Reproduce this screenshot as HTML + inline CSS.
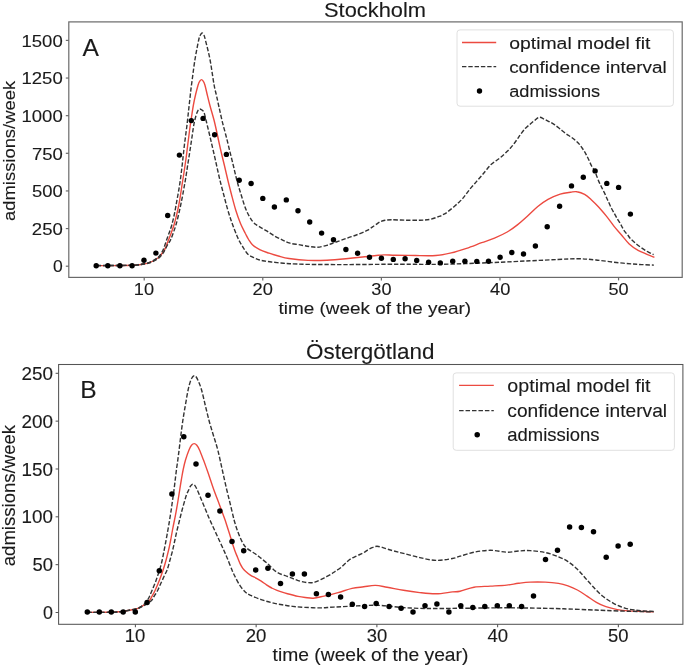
<!DOCTYPE html>
<html><head><meta charset="utf-8"><style>
html,body{margin:0;padding:0;background:#fff;}
svg{display:block;}
svg text{font-family:"Liberation Sans", sans-serif; fill:#1a1a1a;}
.t{filter:grayscale(1);} .t text{stroke:#1a1a1a;stroke-width:0.12px;}
</style></head><body>
<svg width="685" height="667" viewBox="0 0 685 667">
<rect width="685" height="667" fill="#fff"/>
<rect x="68.8" y="21.9" width="613.4" height="255.5" fill="none" stroke="#6a6a6a" stroke-width="1.20"/>
<line x1="65.8" y1="266.20" x2="68.8" y2="266.20" stroke="#6a6a6a" stroke-width="1.20"/>
<line x1="65.8" y1="228.57" x2="68.8" y2="228.57" stroke="#6a6a6a" stroke-width="1.20"/>
<line x1="65.8" y1="190.94" x2="68.8" y2="190.94" stroke="#6a6a6a" stroke-width="1.20"/>
<line x1="65.8" y1="153.30" x2="68.8" y2="153.30" stroke="#6a6a6a" stroke-width="1.20"/>
<line x1="65.8" y1="115.67" x2="68.8" y2="115.67" stroke="#6a6a6a" stroke-width="1.20"/>
<line x1="65.8" y1="78.04" x2="68.8" y2="78.04" stroke="#6a6a6a" stroke-width="1.20"/>
<line x1="65.8" y1="40.41" x2="68.8" y2="40.41" stroke="#6a6a6a" stroke-width="1.20"/>
<line x1="144.20" y1="277.4" x2="144.20" y2="280.4" stroke="#6a6a6a" stroke-width="1.20"/>
<line x1="262.79" y1="277.4" x2="262.79" y2="280.4" stroke="#6a6a6a" stroke-width="1.20"/>
<line x1="381.38" y1="277.4" x2="381.38" y2="280.4" stroke="#6a6a6a" stroke-width="1.20"/>
<line x1="499.97" y1="277.4" x2="499.97" y2="280.4" stroke="#6a6a6a" stroke-width="1.20"/>
<line x1="618.56" y1="277.4" x2="618.56" y2="280.4" stroke="#6a6a6a" stroke-width="1.20"/>
<g fill="none" stroke-linejoin="round" stroke-linecap="butt">
<path d="M96.8,265.6 C99.0,265.6 105.3,265.6 110.0,265.6 C114.7,265.6 120.8,265.6 125.0,265.5 C129.2,265.4 132.5,265.3 135.0,265.2 C137.5,265.1 138.4,264.8 140.0,264.6 C141.6,264.4 142.9,264.2 144.4,263.9 C145.9,263.6 147.4,263.3 148.8,262.8 C150.2,262.3 151.7,261.8 153.1,261.0 C154.5,260.2 156.3,259.2 157.5,258.3 C158.7,257.4 159.6,256.5 160.5,255.5 C161.4,254.5 162.0,253.5 162.8,252.2 C163.7,250.9 164.7,249.6 165.6,247.6 C166.5,245.6 167.5,242.5 168.5,240.0 C169.5,237.5 170.5,235.0 171.4,232.5 C172.3,230.0 173.1,227.9 174.0,225.0 C174.9,222.1 175.8,218.3 176.6,215.0 C177.4,211.7 178.2,208.3 178.8,205.0 C179.5,201.7 180.0,198.3 180.5,195.0 C181.0,191.7 181.5,188.3 182.0,185.0 C182.5,181.7 183.1,178.3 183.6,175.0 C184.1,171.7 184.6,168.3 185.1,165.0 C185.6,161.7 186.1,158.3 186.5,155.0 C186.9,151.7 187.3,148.3 187.7,145.0 C188.1,141.7 188.6,138.3 189.0,135.0 C189.4,131.7 189.8,128.3 190.3,125.0 C190.8,121.7 191.3,118.3 191.8,115.0 C192.3,111.7 192.8,108.3 193.4,105.0 C194.0,101.7 194.7,98.3 195.5,95.0 C196.3,91.7 197.4,87.3 198.1,85.0 C198.8,82.7 199.2,82.1 199.8,81.2 C200.4,80.3 200.9,79.6 201.5,79.6 C202.1,79.6 202.6,80.3 203.2,81.2 C203.8,82.1 204.2,82.7 204.9,85.0 C205.6,87.3 206.5,91.7 207.3,95.0 C208.1,98.3 208.7,100.8 209.8,105.0 C210.9,109.2 212.7,115.0 214.0,120.0 C215.3,125.0 216.3,130.0 217.4,135.0 C218.5,140.0 219.5,145.0 220.7,150.0 C221.8,155.0 223.1,160.0 224.3,165.0 C225.5,170.0 226.6,175.0 227.8,180.0 C229.0,185.0 230.3,190.0 231.6,195.0 C232.9,200.0 234.2,205.2 235.7,210.0 C237.2,214.8 238.9,219.6 240.5,223.5 C242.1,227.4 244.1,230.8 245.4,233.5 C246.8,236.2 247.4,237.6 248.6,239.5 C249.8,241.4 250.8,243.3 252.7,245.0 C254.5,246.7 257.0,248.2 259.7,249.6 C262.4,251.0 266.0,252.1 269.1,253.2 C272.2,254.3 275.1,255.1 278.4,256.0 C281.7,256.9 284.1,257.8 289.0,258.5 C293.9,259.2 301.7,260.1 308.0,260.4 C314.3,260.7 320.7,260.5 327.0,260.2 C333.3,259.9 339.6,259.3 345.9,258.7 C352.2,258.1 359.8,257.3 364.9,256.8 C370.0,256.3 373.1,255.8 376.3,255.5 C379.5,255.2 380.8,255.0 383.9,254.9 C387.0,254.8 389.7,255.1 395.0,255.2 C400.3,255.3 408.7,255.4 415.5,255.5 C422.3,255.6 429.9,255.9 435.9,255.5 C441.8,255.1 446.1,254.1 451.2,252.9 C456.3,251.7 461.4,250.0 466.5,248.3 C471.6,246.6 477.0,244.4 481.7,242.7 C486.4,241.0 490.2,239.9 494.5,238.1 C498.8,236.3 503.4,234.2 507.2,232.0 C511.0,229.8 514.0,227.6 517.4,224.9 C520.8,222.2 524.2,219.1 527.6,216.0 C531.0,212.9 534.4,209.3 537.8,206.5 C541.2,203.7 544.3,201.5 548.0,199.4 C551.7,197.3 556.4,195.3 560.2,194.1 C564.0,192.9 567.8,192.6 570.6,192.2 C573.4,191.8 574.7,191.3 577.0,191.7 C579.3,192.0 582.3,193.0 584.6,194.3 C586.9,195.6 588.7,197.3 591.0,199.4 C593.3,201.5 596.1,204.2 598.6,207.0 C601.1,209.8 603.7,212.7 606.2,215.9 C608.8,219.1 611.4,222.9 613.9,226.1 C616.4,229.3 619.0,232.0 621.5,235.0 C624.0,238.0 626.4,241.3 629.2,243.9 C632.0,246.5 635.1,248.6 638.1,250.3 C641.1,252.0 644.3,253.1 647.0,254.3 C649.7,255.5 653.2,256.9 654.4,257.4" stroke="#ec4a40" stroke-width="1.40"/>
<path d="M96.8,265.5 C101.5,265.5 118.6,265.5 125.0,265.4 C131.4,265.3 132.5,265.3 135.0,265.1 C137.5,264.9 138.5,264.6 140.0,264.4 C141.5,264.2 142.5,264.0 144.0,263.7 C145.5,263.4 147.3,263.1 148.8,262.6 C150.3,262.1 151.7,261.5 153.1,260.7 C154.5,259.9 156.3,258.7 157.5,257.8 C158.7,256.9 159.3,256.1 160.0,255.2 C160.7,254.3 161.1,253.7 161.8,252.4 C162.5,251.1 163.2,249.7 164.0,247.6 C164.8,245.5 165.7,242.5 166.6,240.0 C167.5,237.5 168.4,235.0 169.3,232.5 C170.2,230.0 171.0,227.9 171.8,225.0 C172.6,222.1 173.5,218.3 174.2,215.0 C174.9,211.7 175.5,208.3 176.1,205.0 C176.7,201.7 177.3,198.3 177.9,195.0 C178.5,191.7 179.1,188.3 179.6,185.0 C180.1,181.7 180.6,178.3 181.0,175.0 C181.4,171.7 181.8,168.3 182.2,165.0 C182.6,161.7 182.9,158.3 183.3,155.0 C183.7,151.7 184.0,148.3 184.4,145.0 C184.8,141.7 185.3,138.3 185.7,135.0 C186.1,131.7 186.6,128.3 187.0,125.0 C187.4,121.7 187.7,118.3 188.1,115.0 C188.5,111.7 188.8,108.3 189.2,105.0 C189.6,101.7 189.9,98.3 190.3,95.0 C190.7,91.7 190.7,90.8 191.5,85.0 C192.3,79.2 193.7,67.5 194.9,60.0 C196.1,52.5 197.8,44.2 198.7,40.0 C199.6,35.8 199.8,36.2 200.4,35.0 C201.0,33.8 201.6,33.0 202.2,33.0 C202.8,33.0 203.4,33.8 203.9,35.0 C204.4,36.2 204.4,35.8 205.4,40.0 C206.4,44.2 208.7,52.5 210.1,60.0 C211.5,67.5 213.0,79.0 214.1,85.0 C215.2,91.0 215.8,92.3 216.6,96.0 C217.4,99.7 218.1,103.0 219.0,107.0 C219.9,111.0 220.8,115.3 221.9,120.0 C223.0,124.7 224.5,130.0 225.8,135.0 C227.1,140.0 228.3,145.0 229.5,150.0 C230.7,155.0 232.0,160.0 233.2,165.0 C234.4,170.0 235.5,175.0 236.8,180.0 C238.1,185.0 239.6,190.0 241.2,195.0 C242.8,200.0 244.3,205.6 246.2,210.0 C248.1,214.4 250.6,218.9 252.7,221.6 C254.8,224.3 256.3,224.6 258.6,226.2 C260.9,227.8 264.0,229.2 266.7,230.9 C269.4,232.6 272.2,234.6 274.9,236.2 C277.6,237.8 280.6,239.1 283.1,240.3 C285.6,241.5 287.2,242.4 290.0,243.2 C292.8,244.0 296.8,244.3 300.0,244.9 C303.2,245.5 306.4,246.1 309.3,246.5 C312.2,246.9 314.6,247.5 317.5,247.3 C320.4,247.1 324.0,246.1 326.9,245.3 C329.8,244.5 331.7,243.6 335.0,242.4 C338.3,241.2 342.8,239.7 346.7,238.3 C350.6,236.9 354.9,235.6 358.4,234.2 C361.9,232.8 365.0,231.6 367.7,230.1 C370.4,228.6 372.6,226.8 374.7,225.4 C376.8,224.0 378.3,222.8 380.0,221.9 C381.7,221.1 383.1,220.7 385.0,220.3 C386.9,220.0 388.1,219.8 391.5,219.8 C394.9,219.8 400.6,220.1 405.3,220.2 C410.1,220.3 415.9,220.3 420.0,220.2 C424.1,220.1 426.8,220.0 430.0,219.4 C433.2,218.8 436.9,217.2 439.1,216.4 C441.4,215.6 442.1,215.2 443.5,214.4 C444.9,213.7 446.0,213.1 447.6,211.9 C449.2,210.7 451.5,208.8 453.4,207.2 C455.2,205.6 457.1,204.0 458.7,202.5 C460.3,201.0 461.5,199.9 462.8,198.4 C464.1,196.9 465.2,195.3 466.5,193.6 C467.8,191.9 469.1,190.1 470.5,188.4 C471.9,186.8 473.2,185.3 474.6,183.7 C476.0,182.1 477.3,180.6 478.7,179.0 C480.1,177.4 481.5,175.9 482.8,174.3 C484.1,172.7 485.2,171.3 486.6,169.6 C488.0,167.9 489.8,165.7 491.4,164.2 C493.0,162.7 494.5,161.9 496.1,160.7 C497.7,159.5 499.2,158.5 500.8,157.2 C502.4,155.9 503.8,154.6 505.4,153.1 C506.9,151.6 508.7,149.9 510.1,148.4 C511.5,146.9 512.4,145.9 513.6,144.3 C514.8,142.7 516.2,140.7 517.4,139.0 C518.6,137.3 519.5,135.8 520.8,134.1 C522.1,132.4 523.7,130.2 525.2,128.6 C526.7,127.0 528.1,125.9 529.6,124.6 C531.1,123.3 532.4,122.1 534.0,120.9 C535.6,119.7 537.4,117.6 539.1,117.3 C540.8,117.0 542.5,118.4 544.2,119.1 C545.9,119.8 547.6,120.8 549.3,121.7 C551.0,122.6 552.6,123.4 554.4,124.6 C556.2,125.8 558.1,127.4 560.0,128.9 C561.9,130.4 564.1,132.3 566.0,133.7 C567.9,135.1 569.7,136.1 571.4,137.3 C573.1,138.6 574.8,139.9 576.2,141.2 C577.6,142.4 578.7,143.5 579.8,144.8 C580.9,146.1 581.8,147.5 582.8,149.0 C583.8,150.5 584.9,152.1 585.8,153.8 C586.7,155.5 587.4,157.0 588.4,159.0 C589.4,161.0 590.5,164.0 591.6,166.0 C592.7,168.0 594.0,169.4 594.9,171.2 C595.8,173.0 596.2,174.9 597.0,176.8 C597.8,178.7 598.6,181.0 599.4,182.8 C600.2,184.6 601.0,186.0 601.8,187.6 C602.6,189.2 603.4,190.7 604.2,192.4 C605.0,194.1 605.9,196.3 606.6,197.8 C607.3,199.3 607.6,199.9 608.4,201.6 C609.2,203.3 610.4,206.2 611.4,208.2 C612.4,210.2 613.4,211.8 614.4,213.6 C615.4,215.4 616.4,217.3 617.4,219.0 C618.4,220.7 619.6,222.4 620.4,223.8 C621.2,225.2 621.6,226.1 622.3,227.4 C623.0,228.7 623.8,230.2 624.7,231.4 C625.6,232.7 626.6,233.7 627.6,234.9 C628.6,236.1 629.3,237.4 630.5,238.7 C631.7,240.0 633.1,241.2 634.6,242.5 C636.1,243.8 637.6,245.1 639.3,246.3 C640.9,247.5 643.0,248.9 644.5,249.8 C646.0,250.7 646.7,251.2 648.0,251.9 C649.3,252.6 651.2,253.5 652.1,253.9 C653.0,254.3 653.4,254.5 653.6,254.6" stroke="#333" stroke-width="1.40" stroke-dasharray="4.4 1.9"/>
<path d="M96.8,265.6 C103.2,265.6 127.8,265.4 135.0,265.3 C142.2,265.2 138.4,265.0 140.0,264.8 C141.6,264.6 142.9,264.4 144.4,264.1 C145.9,263.8 147.4,263.6 148.8,263.1 C150.2,262.7 151.7,262.1 153.1,261.4 C154.5,260.7 156.2,259.9 157.5,259.0 C158.8,258.1 159.8,257.1 160.8,256.0 C161.8,254.9 162.5,254.2 163.6,252.4 C164.7,250.7 166.0,247.6 167.2,245.5 C168.3,243.4 169.5,242.2 170.5,240.0 C171.5,237.8 172.5,235.0 173.4,232.5 C174.3,230.0 175.1,227.9 175.9,225.0 C176.8,222.1 177.7,218.3 178.5,215.0 C179.3,211.7 180.0,208.3 180.7,205.0 C181.4,201.7 182.1,198.3 182.7,195.0 C183.3,191.7 183.9,188.3 184.5,185.0 C185.1,181.7 185.7,178.3 186.2,175.0 C186.7,171.7 187.2,168.3 187.7,165.0 C188.2,161.7 188.8,158.3 189.3,155.0 C189.8,151.7 190.3,148.3 190.8,145.0 C191.3,141.7 191.8,138.3 192.3,135.0 C192.8,131.7 193.2,128.2 193.8,125.0 C194.4,121.8 195.3,118.0 196.0,115.6 C196.7,113.2 197.2,111.9 197.8,110.8 C198.4,109.7 199.0,109.2 199.6,109.0 C200.2,108.8 200.9,109.3 201.6,109.8 C202.3,110.3 203.2,110.6 203.8,112.0 C204.5,113.4 204.9,115.8 205.5,118.0 C206.1,120.2 206.4,121.8 207.2,125.0 C208.0,128.2 209.2,133.3 210.2,137.5 C211.2,141.7 212.0,145.4 213.1,150.0 C214.2,154.6 215.4,160.0 216.5,165.0 C217.6,170.0 218.7,175.0 219.9,180.0 C221.1,185.0 222.5,190.0 223.8,195.0 C225.1,200.0 226.4,205.3 227.8,210.0 C229.2,214.7 230.5,218.8 232.0,223.0 C233.5,227.2 235.3,231.8 236.6,235.0 C237.9,238.2 238.9,240.2 240.0,242.3 C241.1,244.4 242.1,245.8 243.4,247.8 C244.7,249.8 246.2,252.6 247.9,254.2 C249.6,255.8 251.9,256.6 253.8,257.6 C255.8,258.6 257.7,259.4 259.6,260.0 C261.5,260.6 263.4,260.8 265.4,261.1 C267.3,261.4 269.4,261.8 271.3,262.0 C273.2,262.2 275.1,262.4 277.1,262.6 C279.1,262.8 281.4,263.0 283.5,263.2 C285.6,263.4 285.9,263.5 290.0,263.7 C294.1,263.9 298.7,264.2 308.0,264.4 C317.3,264.5 330.6,264.6 345.9,264.6 C361.2,264.6 384.1,264.2 400.0,264.2 C415.9,264.1 425.7,264.6 441.0,264.3 C456.3,264.0 477.0,263.2 491.9,262.6 C506.8,262.0 519.2,261.3 530.2,260.8 C541.2,260.3 549.8,259.9 557.8,259.5 C565.8,259.1 571.8,258.6 578.2,258.7 C584.6,258.8 589.6,259.4 596.0,260.0 C602.4,260.6 609.6,261.8 616.4,262.5 C623.2,263.2 630.5,263.9 636.8,264.3 C643.0,264.7 651.0,265.0 653.9,265.1" stroke="#333" stroke-width="1.40" stroke-dasharray="4.4 1.9"/>
</g>
<g fill="#000"><circle cx="96.2" cy="265.7" r="2.70"/><circle cx="107.8" cy="265.7" r="2.70"/><circle cx="119.9" cy="265.7" r="2.70"/><circle cx="132.1" cy="265.7" r="2.70"/><circle cx="144.0" cy="260.3" r="2.70"/><circle cx="155.9" cy="253.1" r="2.70"/><circle cx="167.7" cy="215.5" r="2.70"/><circle cx="179.4" cy="155.1" r="2.70"/><circle cx="191.3" cy="120.6" r="2.70"/><circle cx="203.1" cy="118.4" r="2.70"/><circle cx="214.6" cy="134.8" r="2.70"/><circle cx="226.4" cy="154.4" r="2.70"/><circle cx="239.2" cy="180.3" r="2.70"/><circle cx="251.1" cy="183.5" r="2.70"/><circle cx="262.8" cy="198.4" r="2.70"/><circle cx="274.4" cy="207.0" r="2.70"/><circle cx="286.3" cy="199.9" r="2.70"/><circle cx="298.0" cy="210.8" r="2.70"/><circle cx="309.7" cy="222.0" r="2.70"/><circle cx="321.6" cy="233.1" r="2.70"/><circle cx="333.5" cy="239.8" r="2.70"/><circle cx="345.9" cy="249.5" r="2.70"/><circle cx="357.6" cy="253.2" r="2.70"/><circle cx="369.5" cy="257.2" r="2.70"/><circle cx="381.4" cy="258.2" r="2.70"/><circle cx="393.3" cy="259.4" r="2.70"/><circle cx="405.1" cy="258.7" r="2.70"/><circle cx="416.7" cy="260.4" r="2.70"/><circle cx="428.6" cy="262.2" r="2.70"/><circle cx="440.3" cy="262.9" r="2.70"/><circle cx="452.7" cy="261.2" r="2.70"/><circle cx="464.9" cy="261.2" r="2.70"/><circle cx="476.8" cy="261.4" r="2.70"/><circle cx="488.5" cy="261.2" r="2.70"/><circle cx="500.1" cy="257.2" r="2.70"/><circle cx="511.8" cy="252.5" r="2.70"/><circle cx="523.5" cy="254.0" r="2.70"/><circle cx="535.4" cy="246.0" r="2.70"/><circle cx="547.2" cy="226.8" r="2.70"/><circle cx="559.6" cy="206.2" r="2.70"/><circle cx="571.5" cy="185.9" r="2.70"/><circle cx="583.3" cy="177.2" r="2.70"/><circle cx="595.1" cy="170.9" r="2.70"/><circle cx="606.8" cy="183.4" r="2.70"/><circle cx="618.6" cy="187.4" r="2.70"/><circle cx="630.4" cy="214.1" r="2.70"/></g>
<rect x="457.0" y="29.9" width="216.4" height="76.3" rx="3" ry="3" fill="#fff" fill-opacity="0.8" stroke="#e0e0e0" stroke-width="1"/>
<line x1="462.0" y1="42.5" x2="496.2" y2="42.5" stroke="#ec4a40" stroke-width="1.40"/>
<line x1="462.0" y1="66.6" x2="496.2" y2="66.6" stroke="#333" stroke-width="1.40" stroke-dasharray="4.4 1.9"/>
<circle cx="479.5" cy="91.0" r="2.70" fill="#000"/>
<rect x="58.6" y="364.5" width="624.3" height="259.8" fill="none" stroke="#555" stroke-width="1.05"/>
<line x1="55.6" y1="612.50" x2="58.6" y2="612.50" stroke="#555" stroke-width="1.05"/>
<line x1="55.6" y1="564.66" x2="58.6" y2="564.66" stroke="#555" stroke-width="1.05"/>
<line x1="55.6" y1="516.82" x2="58.6" y2="516.82" stroke="#555" stroke-width="1.05"/>
<line x1="55.6" y1="468.98" x2="58.6" y2="468.98" stroke="#555" stroke-width="1.05"/>
<line x1="55.6" y1="421.14" x2="58.6" y2="421.14" stroke="#555" stroke-width="1.05"/>
<line x1="55.6" y1="373.30" x2="58.6" y2="373.30" stroke="#555" stroke-width="1.05"/>
<line x1="135.40" y1="624.3" x2="135.40" y2="627.3" stroke="#555" stroke-width="1.05"/>
<line x1="256.14" y1="624.3" x2="256.14" y2="627.3" stroke="#555" stroke-width="1.05"/>
<line x1="376.88" y1="624.3" x2="376.88" y2="627.3" stroke="#555" stroke-width="1.05"/>
<line x1="497.62" y1="624.3" x2="497.62" y2="627.3" stroke="#555" stroke-width="1.05"/>
<line x1="618.36" y1="624.3" x2="618.36" y2="627.3" stroke="#555" stroke-width="1.05"/>
<g fill="none" stroke-linejoin="round" stroke-linecap="butt">
<path d="M87.1,612.4 C90.9,612.4 104.5,612.4 110.0,612.3 C115.5,612.2 117.0,612.0 120.0,611.7 C123.0,611.4 125.2,611.0 128.0,610.5 C130.8,610.0 134.6,609.3 136.8,608.7 C139.0,608.1 139.7,607.5 141.1,606.7 C142.5,605.9 144.1,605.0 145.5,604.0 C146.9,603.0 148.4,601.6 149.5,600.4 C150.6,599.2 150.8,598.3 151.8,596.6 C152.8,594.9 154.0,592.8 155.3,590.0 C156.6,587.2 158.2,583.3 159.5,580.0 C160.8,576.7 162.0,573.3 163.1,570.0 C164.2,566.7 165.2,563.3 166.1,560.0 C167.0,556.7 167.8,553.3 168.6,550.0 C169.4,546.7 170.0,543.3 170.7,540.0 C171.3,536.7 171.9,533.3 172.5,530.0 C173.1,526.7 173.8,523.3 174.5,520.0 C175.2,516.7 175.8,513.3 176.4,510.0 C177.0,506.7 177.6,503.3 178.1,500.0 C178.6,496.7 179.2,493.3 179.7,490.0 C180.2,486.7 180.7,483.3 181.3,480.0 C181.9,476.7 182.4,473.3 183.1,470.0 C183.8,466.7 184.5,463.3 185.5,460.0 C186.5,456.7 188.0,452.4 189.0,450.0 C190.0,447.6 190.6,446.4 191.5,445.3 C192.4,444.2 193.3,443.6 194.2,443.6 C195.1,443.6 195.9,444.2 196.8,445.3 C197.7,446.4 198.4,447.6 199.5,450.0 C200.6,452.4 202.2,456.7 203.5,460.0 C204.8,463.3 205.9,466.7 207.1,470.0 C208.3,473.3 209.4,476.7 210.5,480.0 C211.6,483.3 212.7,486.7 213.9,490.0 C215.1,493.3 216.4,496.7 217.7,500.0 C218.9,503.3 220.2,506.7 221.4,510.0 C222.6,513.3 223.9,516.7 225.1,520.0 C226.2,523.3 227.2,526.7 228.3,530.0 C229.4,533.3 230.4,536.6 231.4,540.0 C232.4,543.4 233.6,547.2 234.6,550.1 C235.6,553.0 236.7,555.2 237.6,557.5 C238.5,559.8 239.3,562.1 240.2,563.9 C241.1,565.7 241.9,567.1 242.8,568.3 C243.7,569.5 244.2,570.0 245.5,571.2 C246.8,572.4 248.9,574.2 250.7,575.4 C252.4,576.5 254.2,577.1 256.0,578.1 C257.8,579.1 259.4,580.1 261.2,581.2 C262.9,582.3 264.8,583.8 266.5,584.9 C268.2,586.0 269.9,587.1 271.7,588.0 C273.4,588.9 275.2,589.6 277.0,590.3 C278.8,591.0 280.4,591.6 282.2,592.2 C283.9,592.8 284.9,593.1 287.5,593.8 C290.1,594.5 295.1,595.8 298.0,596.4 C300.9,597.0 302.6,597.2 305.2,597.5 C307.8,597.8 310.2,598.4 313.3,598.2 C316.4,598.0 319.9,597.0 324.0,596.1 C328.1,595.2 333.3,593.9 338.0,592.6 C342.7,591.3 347.7,589.4 352.0,588.4 C356.3,587.4 359.8,587.3 363.7,586.8 C367.6,586.3 371.5,585.3 375.4,585.4 C379.3,585.5 382.4,586.4 387.1,587.2 C391.8,588.0 397.9,589.4 403.4,590.3 C408.8,591.2 414.4,592.0 419.8,592.6 C425.2,593.2 430.7,593.9 436.1,593.8 C441.6,593.7 448.5,592.3 452.5,591.9 C456.5,591.5 456.4,592.0 460.0,591.2 C463.6,590.4 468.9,588.1 474.0,587.2 C479.1,586.4 484.9,586.5 490.4,586.1 C495.8,585.8 502.0,585.6 506.7,585.1 C511.4,584.6 514.5,583.8 518.4,583.3 C522.3,582.8 525.6,582.3 530.1,582.1 C534.6,581.9 540.5,581.9 545.2,582.1 C549.9,582.3 554.7,582.8 558.5,583.4 C562.3,584.0 564.9,584.8 568.0,585.9 C571.1,587.0 574.2,588.3 577.4,590.0 C580.6,591.7 583.8,594.0 587.0,596.1 C590.2,598.2 593.2,600.6 596.4,602.4 C599.5,604.2 602.4,605.5 605.9,606.7 C609.4,607.9 613.5,608.9 617.3,609.6 C621.1,610.3 624.3,610.6 628.7,610.9 C633.1,611.2 639.8,611.4 643.9,611.5 C648.0,611.6 652.0,611.7 653.6,611.7" stroke="#ec4a40" stroke-width="1.40"/>
<path d="M87.1,612.4 C90.9,612.4 104.5,612.4 110.0,612.3 C115.5,612.2 117.0,612.0 120.0,611.7 C123.0,611.4 125.2,610.9 128.0,610.4 C130.8,609.9 134.6,609.2 136.8,608.6 C139.0,608.0 139.8,607.3 141.1,606.5 C142.4,605.7 143.5,604.9 144.5,603.9 C145.5,602.9 146.5,601.7 147.3,600.4 C148.2,599.1 148.8,597.9 149.6,596.2 C150.4,594.5 151.2,592.4 152.2,590.0 C153.2,587.6 154.3,585.2 155.5,582.0 C156.7,578.8 158.1,574.5 159.2,571.0 C160.3,567.5 161.2,564.5 162.0,561.0 C162.8,557.5 163.5,553.5 164.2,550.0 C164.9,546.5 165.5,543.3 166.1,540.0 C166.7,536.7 167.3,533.3 167.9,530.0 C168.5,526.7 169.1,523.3 169.6,520.0 C170.1,516.7 170.7,513.3 171.2,510.0 C171.7,506.7 172.1,503.3 172.6,500.0 C173.1,496.7 173.6,493.3 174.0,490.0 C174.4,486.7 174.8,483.3 175.2,480.0 C175.6,476.7 176.0,473.3 176.4,470.0 C176.8,466.7 177.4,463.3 177.8,460.0 C178.2,456.7 178.6,454.2 179.1,450.0 C179.6,445.8 180.3,440.0 180.9,435.0 C181.5,430.0 182.2,425.0 182.9,420.0 C183.7,415.0 184.5,410.0 185.4,405.0 C186.3,400.0 187.2,394.0 188.1,390.0 C188.9,386.0 189.8,383.2 190.5,381.0 C191.2,378.8 191.9,377.9 192.5,377.0 C193.1,376.1 193.7,375.7 194.3,375.7 C194.9,375.7 195.5,376.0 196.2,377.0 C196.9,378.0 197.6,379.3 198.5,381.5 C199.4,383.7 200.5,386.1 201.6,390.0 C202.7,393.9 204.0,400.0 205.2,405.0 C206.4,410.0 207.6,415.0 208.9,420.0 C210.2,425.0 211.8,430.0 213.3,435.0 C214.8,440.0 216.3,444.2 217.8,450.0 C219.3,455.8 220.8,463.3 222.3,470.0 C223.8,476.7 225.4,484.2 226.8,490.0 C228.2,495.8 229.3,500.0 230.5,505.0 C231.7,510.0 232.9,515.5 234.1,520.0 C235.3,524.5 236.5,528.2 237.9,531.9 C239.3,535.6 240.9,539.6 242.4,542.3 C243.9,545.0 244.5,546.2 246.9,548.3 C249.3,550.4 253.4,552.4 256.7,554.9 C260.0,557.4 263.4,560.1 266.8,563.0 C270.2,565.9 273.4,569.9 276.9,572.1 C280.3,574.4 284.6,575.3 287.5,576.5 C290.4,577.7 292.1,578.4 294.4,579.2 C296.6,580.0 298.9,580.9 301.0,581.4 C303.1,581.9 305.0,582.3 306.8,582.5 C308.6,582.7 310.4,582.8 311.9,582.7 C313.3,582.6 314.0,582.4 315.5,581.9 C317.0,581.4 318.9,580.5 320.7,579.6 C322.5,578.7 324.6,577.7 326.5,576.7 C328.4,575.7 330.9,574.3 332.3,573.4 C333.7,572.5 333.7,572.4 335.0,571.5 C336.3,570.6 338.6,569.4 340.3,568.0 C342.1,566.6 343.8,564.7 345.5,563.2 C347.2,561.7 348.9,560.0 350.8,558.8 C352.7,557.6 354.9,556.8 356.9,555.8 C358.9,554.8 361.1,554.1 363.0,553.1 C364.9,552.1 366.7,550.6 368.3,549.6 C369.9,548.6 371.2,548.0 372.7,547.4 C374.1,546.8 375.4,546.3 377.0,546.3 C378.6,546.3 380.5,546.9 382.3,547.4 C384.1,547.9 385.7,548.6 387.6,549.2 C389.5,549.8 391.1,550.2 393.7,550.9 C396.3,551.6 399.0,552.3 403.4,553.4 C407.8,554.5 414.4,556.4 419.8,557.6 C425.2,558.8 430.7,560.2 436.1,560.4 C441.6,560.5 448.5,559.2 452.5,558.5 C456.5,557.8 456.4,557.2 460.0,556.2 C463.6,555.2 468.9,553.2 474.0,552.2 C479.1,551.2 484.9,550.3 490.4,550.3 C495.8,550.3 502.0,552.1 506.7,552.2 C511.4,552.3 514.5,551.3 518.4,551.0 C522.3,550.7 525.6,550.4 530.1,550.6 C534.6,550.9 540.5,551.5 545.2,552.5 C549.9,553.5 554.7,555.3 558.5,556.8 C562.3,558.3 564.9,559.5 568.0,561.6 C571.1,563.7 574.6,566.5 577.4,569.2 C580.2,571.9 582.5,574.9 585.0,577.7 C587.5,580.5 589.8,583.2 592.6,586.2 C595.5,589.2 598.6,592.9 602.1,595.7 C605.6,598.6 609.7,601.2 613.5,603.3 C617.3,605.4 621.1,606.9 624.9,608.1 C628.7,609.3 633.1,609.8 636.3,610.3 C639.5,610.8 641.1,610.8 644.0,611.0 C646.9,611.2 652.0,611.3 653.6,611.4" stroke="#333" stroke-width="1.40" stroke-dasharray="4.5 1.95"/>
<path d="M87.1,612.4 C90.9,612.4 104.5,612.4 110.0,612.3 C115.5,612.2 117.0,612.0 120.0,611.7 C123.0,611.4 125.2,611.1 128.0,610.6 C130.8,610.1 134.6,609.5 136.8,608.9 C139.0,608.3 139.5,607.8 141.1,607.0 C142.7,606.2 144.8,605.2 146.5,604.1 C148.2,603.0 150.2,601.8 151.5,600.4 C152.8,599.0 153.2,597.7 154.3,596.0 C155.4,594.3 156.8,592.2 157.9,590.0 C159.0,587.8 159.9,585.3 161.0,583.0 C162.1,580.7 163.2,578.2 164.2,576.0 C165.2,573.8 166.1,572.7 167.1,570.0 C168.1,567.3 169.1,563.3 170.0,560.0 C170.9,556.7 171.9,553.3 172.7,550.0 C173.5,546.7 174.2,543.3 174.9,540.0 C175.6,536.7 176.3,533.3 177.1,530.0 C177.9,526.7 178.8,523.3 179.6,520.0 C180.4,516.7 181.2,513.3 182.1,510.0 C183.0,506.7 184.1,502.7 184.9,500.0 C185.7,497.3 186.2,495.7 186.8,494.0 C187.4,492.3 188.1,491.3 188.7,490.0 C189.3,488.7 189.9,487.0 190.6,486.0 C191.2,485.0 191.9,484.3 192.6,484.2 C193.3,484.1 194.0,484.4 194.8,485.4 C195.6,486.4 196.2,487.6 197.3,490.0 C198.4,492.4 200.1,496.7 201.5,500.0 C202.9,503.3 204.3,506.7 205.7,510.0 C207.1,513.3 208.4,516.7 209.9,520.0 C211.4,523.3 213.0,526.7 214.5,530.0 C216.0,533.3 217.6,536.7 219.1,540.0 C220.6,543.3 222.3,546.9 223.7,550.0 C225.1,553.1 226.1,555.3 227.5,558.8 C228.9,562.3 231.2,568.1 232.4,571.1 C233.7,574.1 233.7,574.0 235.0,576.5 C236.3,579.0 238.4,583.3 240.2,585.9 C241.9,588.5 243.8,590.6 245.5,592.2 C247.2,593.8 248.1,594.2 250.7,595.4 C253.3,596.6 257.7,598.4 261.2,599.6 C264.7,600.8 268.2,601.8 271.7,602.7 C275.2,603.6 278.7,604.2 282.2,604.8 C285.7,605.4 288.9,606.0 292.7,606.4 C296.5,606.8 300.4,607.1 305.0,607.4 C309.6,607.6 315.3,607.9 320.0,607.9 C324.7,607.9 327.3,607.4 333.4,607.1 C339.5,606.8 348.9,606.2 356.7,605.9 C364.5,605.6 372.3,605.1 380.1,605.4 C387.9,605.7 395.6,607.1 403.4,607.6 C411.2,608.1 417.4,608.4 426.8,608.5 C436.2,608.6 446.7,608.4 460.0,608.3 C473.3,608.2 491.1,607.8 506.7,607.8 C522.3,607.8 543.2,608.3 553.4,608.5 C563.6,608.7 562.1,608.8 568.0,609.0 C573.9,609.2 582.2,609.5 588.5,609.8 C594.8,610.0 599.0,610.2 605.9,610.5 C612.8,610.8 622.0,611.1 630.0,611.3 C638.0,611.5 649.7,611.8 653.6,611.9" stroke="#333" stroke-width="1.40" stroke-dasharray="4.5 1.95"/>
</g>
<g fill="#000"><circle cx="87.3" cy="612.1" r="2.75"/><circle cx="99.3" cy="612.1" r="2.75"/><circle cx="111.3" cy="612.1" r="2.75"/><circle cx="123.2" cy="612.1" r="2.75"/><circle cx="135.3" cy="612.1" r="2.75"/><circle cx="147.1" cy="602.5" r="2.75"/><circle cx="159.3" cy="570.7" r="2.75"/><circle cx="171.9" cy="494.0" r="2.75"/><circle cx="183.8" cy="436.8" r="2.75"/><circle cx="196.0" cy="464.0" r="2.75"/><circle cx="208.0" cy="495.2" r="2.75"/><circle cx="219.9" cy="510.9" r="2.75"/><circle cx="232.0" cy="541.4" r="2.75"/><circle cx="243.7" cy="550.8" r="2.75"/><circle cx="255.7" cy="570.1" r="2.75"/><circle cx="267.9" cy="568.3" r="2.75"/><circle cx="280.5" cy="583.5" r="2.75"/><circle cx="292.4" cy="573.9" r="2.75"/><circle cx="304.4" cy="573.9" r="2.75"/><circle cx="316.4" cy="593.7" r="2.75"/><circle cx="328.4" cy="594.6" r="2.75"/><circle cx="340.6" cy="596.9" r="2.75"/><circle cx="352.3" cy="604.2" r="2.75"/><circle cx="364.6" cy="606.6" r="2.75"/><circle cx="376.2" cy="603.6" r="2.75"/><circle cx="389.1" cy="606.6" r="2.75"/><circle cx="401.1" cy="608.3" r="2.75"/><circle cx="413.0" cy="612.1" r="2.75"/><circle cx="425.0" cy="605.7" r="2.75"/><circle cx="436.9" cy="604.0" r="2.75"/><circle cx="448.9" cy="612.1" r="2.75"/><circle cx="460.8" cy="605.7" r="2.75"/><circle cx="472.8" cy="607.4" r="2.75"/><circle cx="484.8" cy="606.6" r="2.75"/><circle cx="497.3" cy="605.7" r="2.75"/><circle cx="509.3" cy="605.7" r="2.75"/><circle cx="521.6" cy="606.6" r="2.75"/><circle cx="533.5" cy="596.1" r="2.75"/><circle cx="545.5" cy="559.6" r="2.75"/><circle cx="557.5" cy="550.2" r="2.75"/><circle cx="569.6" cy="527.0" r="2.75"/><circle cx="581.4" cy="527.6" r="2.75"/><circle cx="593.5" cy="531.7" r="2.75"/><circle cx="606.2" cy="557.2" r="2.75"/><circle cx="618.1" cy="546.1" r="2.75"/><circle cx="630.2" cy="544.3" r="2.75"/></g>
<rect x="453.2" y="372.9" width="221.2" height="77.4" rx="3" ry="3" fill="#fff" fill-opacity="0.8" stroke="#e0e0e0" stroke-width="1"/>
<line x1="459.1" y1="385.4" x2="493.8" y2="385.4" stroke="#ec4a40" stroke-width="1.40"/>
<line x1="459.1" y1="410.6" x2="493.8" y2="410.6" stroke="#333" stroke-width="1.40" stroke-dasharray="4.5 1.95"/>
<circle cx="477.2" cy="434.7" r="2.75" fill="#000"/>
<g class="t">
<text x="52.97" y="272.4" font-size="17.40" textLength="9.76" lengthAdjust="spacingAndGlyphs">0</text>
<text x="31.87" y="234.8" font-size="17.40" textLength="30.94" lengthAdjust="spacingAndGlyphs">250</text>
<text x="32.06" y="197.1" font-size="17.40" textLength="30.74" lengthAdjust="spacingAndGlyphs">500</text>
<text x="31.95" y="159.5" font-size="17.40" textLength="30.85" lengthAdjust="spacingAndGlyphs">750</text>
<text x="21.51" y="121.9" font-size="17.40" textLength="41.23" lengthAdjust="spacingAndGlyphs">1000</text>
<text x="21.51" y="84.2" font-size="17.40" textLength="41.23" lengthAdjust="spacingAndGlyphs">1250</text>
<text x="21.51" y="46.6" font-size="17.40" textLength="41.23" lengthAdjust="spacingAndGlyphs">1500</text>
<text x="133.80" y="295.3" font-size="17.40" textLength="20.20" lengthAdjust="spacingAndGlyphs">10</text>
<text x="252.55" y="295.3" font-size="17.40" textLength="20.33" lengthAdjust="spacingAndGlyphs">20</text>
<text x="371.33" y="295.3" font-size="17.40" textLength="20.14" lengthAdjust="spacingAndGlyphs">30</text>
<text x="489.99" y="295.3" font-size="17.40" textLength="20.29" lengthAdjust="spacingAndGlyphs">40</text>
<text x="608.51" y="295.3" font-size="17.40" textLength="20.14" lengthAdjust="spacingAndGlyphs">50</text>
<text x="509.2" y="48.7" font-size="17.40" text-anchor="start" textLength="141.2" lengthAdjust="spacingAndGlyphs" >optimal model fit</text>
<text x="509.2" y="72.7" font-size="17.40" text-anchor="start" textLength="157.4" lengthAdjust="spacingAndGlyphs" >confidence interval</text>
<text x="509.2" y="96.8" font-size="17.40" text-anchor="start" textLength="90.9" lengthAdjust="spacingAndGlyphs" >admissions</text>
<text x="324.0" y="16.5" font-size="20.90" text-anchor="start" textLength="102.0" lengthAdjust="spacingAndGlyphs" >Stockholm</text>
<text x="82.6" y="55.8" font-size="24.60" text-anchor="start" >A</text>
<text x="278.5" y="313.6" font-size="17.40" text-anchor="start" textLength="192.6" lengthAdjust="spacingAndGlyphs" >time (week of the year)</text>
<text transform="translate(15.0,150.9) rotate(-90)" x="0" y="0" font-size="17.40" text-anchor="middle" textLength="140.0" lengthAdjust="spacingAndGlyphs">admissions/week</text>
<text x="43.00" y="619.0" font-size="17.80" textLength="9.93" lengthAdjust="spacingAndGlyphs">0</text>
<text x="32.48" y="571.2" font-size="17.80" textLength="20.50" lengthAdjust="spacingAndGlyphs">50</text>
<text x="21.64" y="523.3" font-size="17.80" textLength="31.38" lengthAdjust="spacingAndGlyphs">100</text>
<text x="21.64" y="475.5" font-size="17.80" textLength="31.38" lengthAdjust="spacingAndGlyphs">150</text>
<text x="21.52" y="427.6" font-size="17.80" textLength="31.50" lengthAdjust="spacingAndGlyphs">200</text>
<text x="21.52" y="379.8" font-size="17.80" textLength="31.50" lengthAdjust="spacingAndGlyphs">250</text>
<text x="124.82" y="642.3" font-size="17.80" textLength="20.57" lengthAdjust="spacingAndGlyphs">10</text>
<text x="245.72" y="642.3" font-size="17.80" textLength="20.70" lengthAdjust="spacingAndGlyphs">20</text>
<text x="366.65" y="642.3" font-size="17.80" textLength="20.50" lengthAdjust="spacingAndGlyphs">30</text>
<text x="487.45" y="642.3" font-size="17.80" textLength="20.65" lengthAdjust="spacingAndGlyphs">40</text>
<text x="608.13" y="642.3" font-size="17.80" textLength="20.50" lengthAdjust="spacingAndGlyphs">50</text>
<text x="507.3" y="391.6" font-size="17.80" text-anchor="start" textLength="143.2" lengthAdjust="spacingAndGlyphs" >optimal model fit</text>
<text x="507.3" y="416.7" font-size="17.80" text-anchor="start" textLength="159.8" lengthAdjust="spacingAndGlyphs" >confidence interval</text>
<text x="507.3" y="440.7" font-size="17.80" text-anchor="start" textLength="92.3" lengthAdjust="spacingAndGlyphs" >admissions</text>
<text x="306.0" y="358.8" font-size="21.30" text-anchor="start" textLength="128.4" lengthAdjust="spacingAndGlyphs" >Östergötland</text>
<text x="80.2" y="397.8" font-size="24.60" text-anchor="start" >B</text>
<text x="272.6" y="661.0" font-size="17.80" text-anchor="start" textLength="195.8" lengthAdjust="spacingAndGlyphs" >time (week of the year)</text>
<text transform="translate(15.2,495.6) rotate(-90)" x="0" y="0" font-size="17.80" text-anchor="middle" textLength="141.3" lengthAdjust="spacingAndGlyphs">admissions/week</text>
</g>
</svg>
</body></html>
